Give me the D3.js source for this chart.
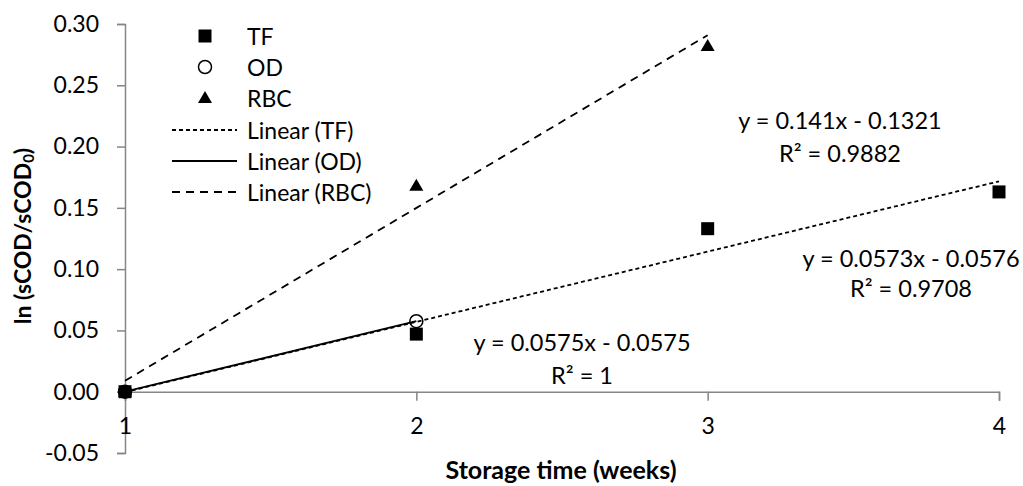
<!DOCTYPE html>
<html><head><meta charset="utf-8">
<script src="https://cdn.jsdelivr.net/npm/d3@7"></script>
<style>body{margin:0;background:#fff}svg{display:block}text{font-family:Lato,"Open Sans",sans-serif;fill:#000}</style>
</head><body>
<script>
const tfX = [1, 2, 3, 4];
const tfY = [0, 0.047, 0.133, 0.163];
const odX = [1, 2];
const odY = [0, 0.0575];
const rbcX = [1, 2, 3];
const rbcY = [0, 0.168, 0.282];
const yTicks = [-0.05, 0, 0.05, 0.10, 0.15, 0.20, 0.25, 0.30];
const xTicks = [1, 2, 3, 4];
const fits = [
  {name: "TF", slope: 0.0573, intercept: -0.0576, x0: 1, x1: 4, dash: "4,3", eq: "y = 0.0573x - 0.0576", r2: "R² = 0.9708"},
  {name: "OD", slope: 0.0575, intercept: -0.0575, x0: 1, x1: 2, dash: null, eq: "y = 0.0575x - 0.0575", r2: "R² = 1"},
  {name: "RBC", slope: 0.141, intercept: -0.1321, x0: 1, x1: 3, dash: "8,6", eq: "y = 0.141x - 0.1321", r2: "R² = 0.9882"}
];
const legendLabels = ["TF", "OD", "RBC", "Linear (TF)", "Linear (OD)", "Linear (RBC)"];

const W = 1023, H = 486;
const svg = d3.select("body").append("svg").attr("width", W).attr("height", H);
const x = d3.scaleLinear().domain([1, 4]).range([125, 999]);
const y = d3.scaleLinear().domain([-0.05, 0.30]).range([453, 24]);
const axisColor = "#868686";
const fs = 23;
const fmtY = v => d3.format(".2f")(v).replace("−", "-");

// Y axis
const yAxis = svg.append("g").attr("transform", `translate(${x(1)},0)`)
  .call(d3.axisLeft(y).tickValues(yTicks).tickFormat(fmtY).tickSize(8).tickPadding(18));
yAxis.select(".domain").attr("stroke", axisColor).attr("stroke-width", 1.5);
yAxis.selectAll(".tick line").attr("stroke", axisColor).attr("stroke-width", 1.5);
yAxis.selectAll(".tick text").style("font-size", fs + "px").style("font-family", "Lato").attr("fill", "#000");

// X axis at y=0
const xAxis = svg.append("g").attr("transform", `translate(0,${y(0)})`)
  .call(d3.axisBottom(x).tickValues(xTicks).tickFormat(d3.format("d")).tickSize(9).tickSizeOuter(9).tickPadding(17));
xAxis.select(".domain").attr("stroke", axisColor).attr("stroke-width", 1.5);
xAxis.selectAll(".tick line").attr("stroke", axisColor).attr("stroke-width", 1.5);
xAxis.selectAll(".tick text").style("font-size", fs + "px").style("font-family", "Lato").attr("fill", "#000");

// Trend lines
const line = d3.line().x(d => x(d[0])).y(d => y(d[1]));
const order = [fits[1], fits[0], fits[2]];
order.forEach(f => {
  svg.append("path").datum([[f.x0, f.slope * f.x0 + f.intercept], [f.x1, f.slope * f.x1 + f.intercept]])
    .attr("d", line).attr("fill", "none").attr("stroke", "#000").attr("stroke-width", 1.8)
    .attr("stroke-dasharray", f.dash);
});

// Markers
const sq = d3.symbol().type(d3.symbolSquare).size(169);
const tri = d3.symbol().type(d3.symbolTriangle).size(85);
svg.append("g").selectAll("path").data(tfX.map((v, i) => [v, tfY[i]])).join("path")
  .attr("d", sq).attr("transform", d => `translate(${x(d[0])},${y(d[1])})`).attr("fill", "#000");
svg.append("g").selectAll("circle").data(odX.map((v, i) => [v, odY[i]])).join("circle")
  .attr("cx", d => x(d[0])).attr("cy", d => y(d[1])).attr("r", 6.5)
  .attr("fill", "none").attr("stroke", "#000").attr("stroke-width", 1.5);
svg.append("g").selectAll("path").data(rbcX.map((v, i) => [v, rbcY[i]])).join("path")
  .attr("d", tri).attr("transform", d => `translate(${x(d[0])},${y(d[1]) + 1})`).attr("fill", "#000");

// Equations
const eqPos = {TF: [911, 258, 288], OD: [582, 342, 375], RBC: [840, 120, 153]};
fits.forEach(f => {
  const p = eqPos[f.name];
  svg.append("text").attr("x", p[0]).attr("y", p[1]).attr("text-anchor", "middle").attr("dominant-baseline", "central")
    .style("font-size", "23.5px").text(f.eq);
  svg.append("text").attr("x", p[0]).attr("y", p[2]).attr("text-anchor", "middle").attr("dominant-baseline", "central")
    .style("font-size", "23.5px").text(f.r2);
});

// Legend
const lg = svg.append("g");
const rowY = [36, 67, 98, 130, 161, 192];
legendLabels.forEach((lab, i) => {
  lg.append("text").attr("x", 247).attr("y", rowY[i]).attr("dominant-baseline", "central")
    .style("font-size", fs + "px").text(lab);
});
lg.append("path").attr("d", sq).attr("transform", `translate(205,${rowY[0]})`).attr("fill", "#000");
lg.append("circle").attr("cx", 205).attr("cy", rowY[1]).attr("r", 6.5).attr("fill", "none").attr("stroke", "#000").attr("stroke-width", 1.5);
lg.append("path").attr("d", tri).attr("transform", `translate(205,${rowY[2] + 1})`).attr("fill", "#000");
fits.forEach((f, i) => {
  lg.append("line").attr("x1", 172).attr("x2", 237).attr("y1", rowY[3 + i]).attr("y2", rowY[3 + i])
    .attr("stroke", "#000").attr("stroke-width", 1.8).attr("stroke-dasharray", f.dash);
});

// Axis titles
svg.append("text").attr("x", 561).attr("y", 469).attr("text-anchor", "middle").attr("dominant-baseline", "central")
  .style("font-size", "25px").style("font-weight", "bold").text("Storage time (weeks)");
const yt = svg.append("text").attr("transform", "translate(22,236) rotate(-90)").attr("text-anchor", "middle")
  .attr("dominant-baseline", "central").style("font-size", fs + "px").style("font-weight", "bold");
yt.append("tspan").text("ln (sCOD/sCOD");
yt.append("tspan").attr("dy", 6).style("font-size", "15px").text("0");
yt.append("tspan").attr("dy", -6).text(")");
</script>
</body></html>
